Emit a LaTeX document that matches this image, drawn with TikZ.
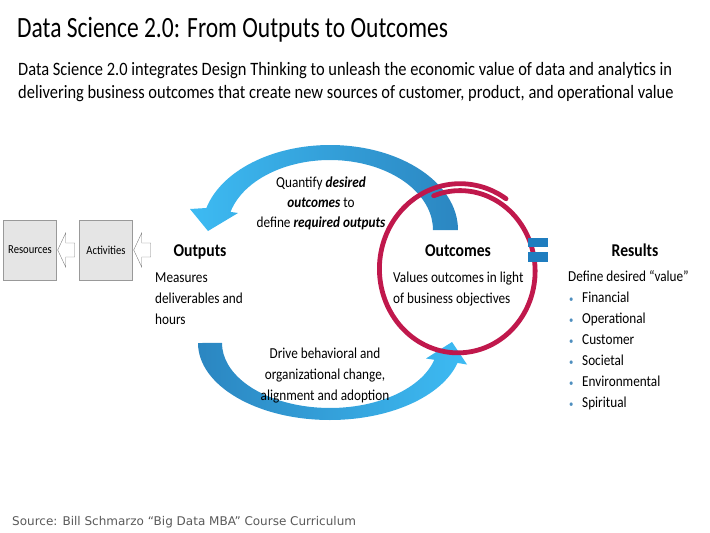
\documentclass[tikz,border=0pt]{standalone}
\usepackage{fontspec}
\setmainfont{Carlito}[FakeStretch=0.87]
\newfontfamily\titlefont{Carlito}[FakeStretch=0.8]
\newfontfamily\srcfont{DejaVu Sans}
\usepackage{tikz}
\usetikzlibrary{arrows.meta,positioning,calc}
\definecolor{dslight}{HTML}{3DBBF3}
\definecolor{dsdark}{HTML}{2B86C1}
\definecolor{dseq}{HTML}{1F7DBF}
\definecolor{dsred}{HTML}{C0184C}
\definecolor{dsbullet}{HTML}{4F8FBF}
\definecolor{dssrc}{HTML}{595959}
\newcommand{\dsitem}[1]{\makebox[14pt][l]{\hspace{1pt}\textcolor{dsbullet}{\fontsize{10}{10}\selectfont\textbullet}}#1}

\begin{document}
\begin{tikzpicture}[x=1pt,y=-1pt,
  txt/.style={font=\fontsize{15.2}{21}\selectfont,align=left,inner sep=0},
  hd/.style={font=\fontsize{18}{20}\selectfont\bfseries,inner sep=0},
  box/.style={draw=gray!80,fill=gray!20,minimum width=53,minimum height=60,inner sep=0,font=\fontsize{12.2}{14}\selectfont},
  hollow/.style={draw=gray,fill=white,line join=miter}]
  \useasboundingbox (0,0) rectangle (710,533);
  \node[anchor=base west,inner sep=0,font=\titlefont\fontsize{29.4}{32}\selectfont] (title) at (17,37) {Data Science 2.0: From Outputs to Outcomes};
  \node[anchor=base west,inner sep=0,align=left,font=\fontsize{18.9}{23}\selectfont] (sub) at (18,98) {Data Science 2.0 integrates Design Thinking to unleash the economic value of data and analytics in\\delivering business outcomes that create new sources of customer, product, and operational value};

  \node[box] (res) at (30,250) {Resources};
  \node[box] (act) at (106,250) {Activities};
  \draw[hollow] ($(res.east)+(1,0)$) -- ++(8,-17) -- ++(0,10) -- ++(9,0) -- ++(0,14) -- ++(-9,0) -- ++(0,10) -- cycle;
  \draw[hollow] ($(act.east)+(1,0)$) -- ++(8,-17) -- ++(0,10) -- ++(9,0) -- ++(0,14) -- ++(-9,0) -- ++(0,10) -- cycle;

  \shade[left color=dslight,right color=dsdark] (458,230) arc[start angle=0,end angle=-165,x radius=128,y radius=85] -- (190,209) -- (208,231) -- (238,213) -- (230.5,211.9) arc[start angle=-165,end angle=0,x radius=103,y radius=70] -- cycle;
  \shade[left color=dsdark,right color=dslight] (198,343) arc[start angle=180,end angle=15,x radius=132,y radius=77] -- (467,364.5) -- (452,342) -- (426,358.5) -- (434.3,359.8) arc[start angle=15,end angle=180,x radius=108,y radius=65] -- cycle;

  \draw[dsred,line width=4.8,line cap=round] plot[smooth,domain=-110:305,samples=80] ({459+(74+8*(\x+110)/415)*cos(\x)},{270+(79+8*(\x+110)/415)*sin(\x)});

  \fill[dseq] (528,238) rectangle (548,247);
  \fill[dseq] (528,252) rectangle (548,262);

  \node[hd,anchor=base] (outp) at (200,256) {Outputs};
  \node[txt,anchor=base west] (outtxt) at (155,324) {Measures\\deliverables and\\hours};
  \node[hd,anchor=base] (outc) at (458,256) {Outcomes};
  \node[txt,anchor=base west] (outctxt) at (393,303) {Values outcomes in light\\of business objectives};
  \node[hd,anchor=base] (resl) at (635,256) {Results};
  \node[txt,anchor=base west] (restxt) at (568,407) {Define desired “value”\\\dsitem{Financial}\\\dsitem{Operational}\\\dsitem{Customer}\\\dsitem{Societal}\\\dsitem{Environmental}\\\dsitem{Spiritual}};

  \node[txt,align=center,anchor=base,font=\fontsize{15.2}{20}\selectfont] (quant) at (321,227) {Quantify \textbf{\textit{desired}}\\\textbf{\textit{outcomes}} to\\define \textbf{\textit{required outputs}}};
  \node[txt,align=center,anchor=base] (drive) at (325,400) {Drive behavioral and\\organizational change,\\alignment and adoption};

  \node[anchor=base west,inner sep=0,text=dssrc,font=\srcfont\fontsize{12}{14}\selectfont] (src) at (12,525) {Source: Bill Schmarzo “Big Data MBA” Course Curriculum};
\end{tikzpicture}
\end{document}
